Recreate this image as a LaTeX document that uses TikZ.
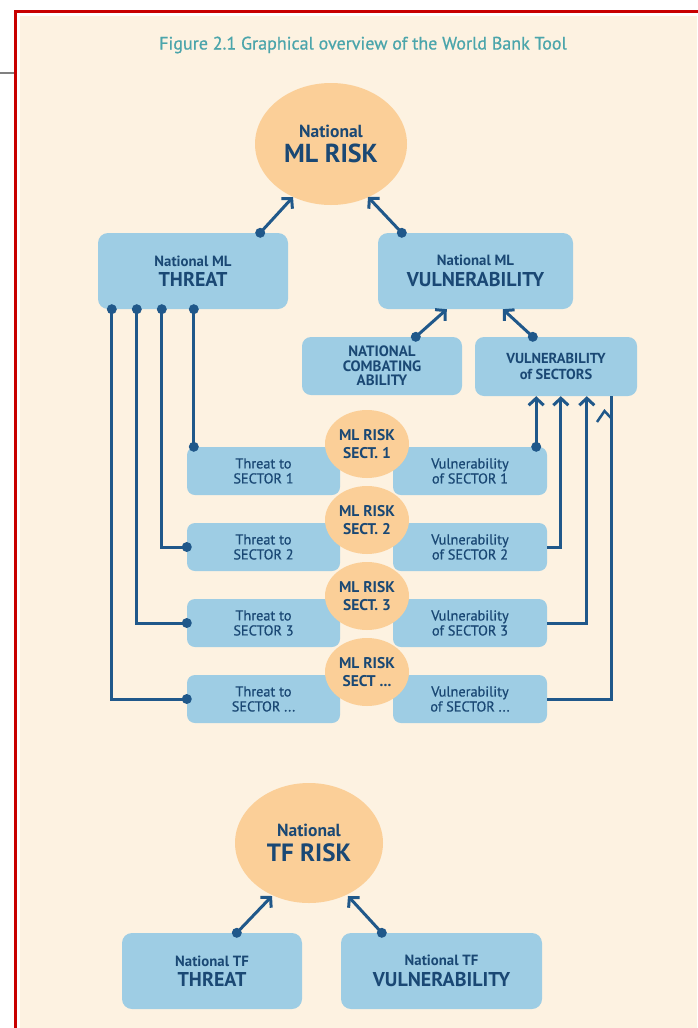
\documentclass[tikz,border=0pt]{standalone}
\usepackage{fontspec}
\setmainfont{PT Sans}
\newfontfamily\semib[FakeBold=0.6]{PT Sans}
\usetikzlibrary{arrows.meta,shapes.geometric,calc}
\definecolor{cream}{HTML}{FDF2E1}
\definecolor{lblue}{HTML}{9ECDE4}
\definecolor{peach}{HTML}{FBCF98}
\definecolor{navy}{HTML}{1A4874}
\definecolor{lineblue}{HTML}{20588A}
\definecolor{teal}{HTML}{4BA5AB}
\definecolor{frame}{HTML}{C80000}
\tikzset{
  box/.style={fill=lblue, rounded corners=10pt, inner sep=0pt, align=center, text=navy},
  sbox/.style={fill=lblue, rounded corners=8pt, inner sep=0pt, align=center, text=navy,
    minimum width=154pt, minimum height=48pt, font=\semib\fontsize{14.3}{15}\selectfont},
  oval/.style={ellipse, fill=peach, inner sep=0pt, align=center, text=navy},
  soval/.style={oval, minimum width=84pt, minimum height=68pt, font=\bfseries\fontsize{15.5}{17.5}\selectfont},
  big/.style={font=\bfseries\fontsize{20}{20.5}\selectfont},
  conn/.style={draw=lineblue, line width=3pt},
  arr/.style={conn, -{Straight Barb[length=7pt,width=15pt]}},
  dotmark/.style={fill=lineblue}
}
\newcommand{\smalltxt}[1]{{\fontsize{14.8}{15}\selectfont #1}}
\begin{document}
\begin{tikzpicture}[x=1pt,y=-1pt]
\useasboundingbox (0,0) rectangle (697,1028);
\fill[white] (0,0) rectangle (697,1028);
\fill[cream] (20,16) rectangle (697,1028);
\draw[frame, line width=3.5pt] (15.5,1035) -- (15.5,11.5) -- (705,11.5);
\draw[gray, line width=1.2pt] (0,73) -- (13.5,73);

\node[text=teal, font=\semib\fontsize{18}{20}\selectfont] (title) at (363,45) {Figure 2.1 Graphical overview of the World Bank Tool};

% top level
\node[oval, minimum width=152pt, minimum height=122pt, font=\bfseries\fontsize{26}{25}\selectfont] (mlr) at (331,144)
  {{\fontsize{17.5}{17}\selectfont National}\\ML RISK};
\node[box, big, minimum width=190pt, minimum height=76pt] (thr) at (193,271)
  {\smalltxt{National ML}\\THREAT};
\node[box, big, minimum width=195pt, minimum height=76pt] (vul) at (475.5,271)
  {\smalltxt{National ML}\\VULNERABILITY};
\node[box, rounded corners=9pt, minimum width=160pt, minimum height=58pt, font=\bfseries\fontsize{15}{14.5}\selectfont] (comb) at (382,366)
  {NATIONAL\\COMBATING\\ABILITY};
\node[box, rounded corners=9pt, minimum width=162pt, minimum height=59pt, font=\bfseries\fontsize{14.5}{15.5}\selectfont] (vsec) at (556,366.5)
  {VULNERABILITY\\of SECTORS};

% sector rows
\node[sbox, minimum width=153pt] (ts1) at (263.5,471) {Threat to\\SECTOR 1};
\node[sbox, minimum width=153pt] (ts2) at (263.5,547) {Threat to\\SECTOR 2};
\node[sbox, minimum width=153pt] (ts3) at (263.5,623) {Threat to\\SECTOR 3};
\node[sbox, minimum width=153pt] (ts4) at (263.5,699) {Threat to\\SECTOR ...};
\node[sbox] (vs1) at (470,471) {Vulnerability\\of SECTOR 1};
\node[sbox] (vs2) at (470,547) {Vulnerability\\of SECTOR 2};
\node[sbox] (vs3) at (470,623) {Vulnerability\\of SECTOR 3};
\node[sbox] (vs4) at (470,699) {Vulnerability\\of SECTOR ...};
\node[soval] (r1) at (367,444) {ML RISK\\SECT. 1};
\node[soval] (r2) at (367,520) {ML RISK\\SECT. 2};
\node[soval] (r3) at (367,596) {ML RISK\\SECT. 3};
\node[soval] (r4) at (367,672) {ML RISK\\SECT ...};

% TF
\node[oval, minimum width=148pt, minimum height=120pt, font=\bfseries\fontsize{25}{25}\selectfont] (tfr) at (309,843)
  {{\fontsize{17.5}{17}\selectfont National}\\TF RISK};
\node[box, big, minimum width=180pt, minimum height=76pt] (tft) at (212,971)
  {\smalltxt{National TF}\\THREAT};
\node[box, big, minimum width=201pt, minimum height=76pt] (tfv) at (441.5,971)
  {\smalltxt{National TF}\\VULNERABILITY};

% coordinates
\coordinate (a1) at ($(thr.south west)+(96,0)$);
\coordinate (a2) at ($(thr.south west)+(64,0)$);
\coordinate (a3) at ($(thr.south west)+(39,0)$);
\coordinate (a4) at ($(thr.south west)+(14,0)$);
\coordinate (m1) at ($(thr.north east)+(-28,0)$);
\coordinate (m2) at ($(vul.north west)+(24,0)$);
\coordinate (m1t) at ($(mlr.center)+(-38,53)$);
\coordinate (m2t) at ($(mlr.center)+(37,53)$);
\coordinate (c1) at ($(comb.north west)+(114,0)$);
\coordinate (c1t) at ($(vul.south west)+(69,0)$);
\coordinate (c2) at ($(vsec.north west)+(58,0)$);
\coordinate (c2t) at ($(vul.south west)+(125,0)$);
\coordinate (v1) at ($(vs1.north east)+(-11,0)$);
\coordinate (p2) at ($(vsec.south west)+(86,0)$);
\coordinate (p3) at ($(vsec.south west)+(112,0)$);
\coordinate (p4) at ($(vsec.south west)+(137,0)$);
\coordinate (f1) at ($(tft.north west)+(115,0)$);
\coordinate (f1t) at ($(tfr.center)+(-37,53)$);
\coordinate (f2) at ($(tfv.north west)+(41,0)$);
\coordinate (f2t) at ($(tfr.center)+(39,53)$);

% connectors to national ML risk
\draw[arr] (m1) -- (m1t);
\draw[arr] (m2) -- (m2t);
\fill[dotmark] (m1) circle (5);
\fill[dotmark] (m2) circle (5);
\draw[arr] (c1) -- (c1t);
\draw[arr] (c2) -- (c2t);
\fill[dotmark] (c1) circle (5);
\fill[dotmark] (c2) circle (5);

% threat lines
\draw[conn] (a1) -- (a1 |- ts1.north);
\draw[conn] (a2) |- (ts2.west);
\draw[conn] (a3) |- (ts3.west);
\draw[conn] (a4) |- (ts4.west);
\foreach \p in {a1,a2,a3,a4} \fill[dotmark] (\p) circle (5);
\fill[dotmark] (a1 |- ts1.north) circle (5);
\fill[dotmark] (ts2.west) circle (5);
\fill[dotmark] (ts3.west) circle (5);
\fill[dotmark] (ts4.west) circle (5);

% vulnerability lines
\draw[arr] (v1) -- (v1 |- vsec.south);
\fill[dotmark] (v1) circle (5);
\draw[arr] (vs2.east) -| (p2);
\draw[arr] (vs3.east) -| (p3);
\draw[conn] (vs4.east) -| (p4);
\draw[conn, line width=2.5pt] (597,422) -- (604.5,411) -- (611,418);

% TF connectors
\draw[arr] (f1) -- (f1t);
\draw[arr] (f2) -- (f2t);
\fill[dotmark] (f1) circle (5);
\fill[dotmark] (f2) circle (5);
\end{tikzpicture}
\end{document}
